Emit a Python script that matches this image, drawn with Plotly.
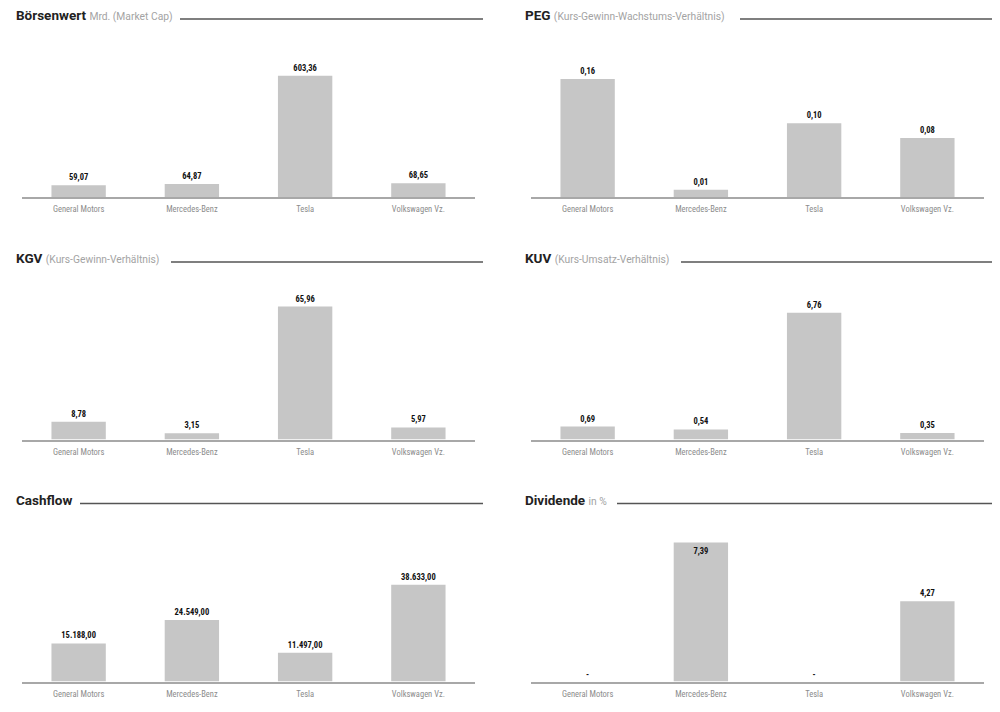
import plotly.graph_objects as go
from plotly.subplots import make_subplots

firmen = ["General Motors", "Mercedes-Benz", "Tesla", "Volkswagen Vz."]

boersenwert = [59.07, 64.87, 603.36, 68.65]
peg = [0.16, 0.01, 0.10, 0.08]
kgv = [8.78, 3.15, 65.96, 5.97]
kuv = [0.69, 0.54, 6.76, 0.35]
cashflow = [15188.00, 24549.00, 11497.00, 38633.00]
dividende = [None, 7.39, None, 4.27]

titel = ["Börsenwert", "PEG", "KGV", "KUV", "Cashflow", "Dividende"]
untertitel = ["Mrd. (Market Cap)", "(Kurs-Gewinn-Wachstums-Verhältnis)",
              "(Kurs-Gewinn-Verhältnis)", "(Kurs-Umsatz-Verhältnis)", "", "in %"]

# page has an 8px body margin, so the figure is 8px smaller and shifted
OFF = 8
W, H = 1000 - OFF, 712 - OFF
BAR = "#c6c6c6"
COND = "Liberation Sans Narrow, Roboto Condensed, DejaVu Sans Condensed, sans-serif"


def fmt_de(v):
    if v is None:
        return "-"
    s = f"{v:,.2f}"
    return s.replace(",", "X").replace(".", ",").replace("X", ".")


def px(x):
    return (x - OFF) / W


def py(y):
    return 1 - (y - OFF) / H


serien = [boersenwert, peg, kgv, kuv, cashflow, dividende]
y_max = [781, 0.213, 77.9, 8.38, 62700, 8.35]

# geometry in screen pixels
x_dom = [(22, 475), (531, 984)]
baselines = [197, 439.5, 681.5]
plot_h = 157
title_y = [15, 257.5, 500]
line_y = [19, 262, 503.5]
line_start = [180, 740, 171, 681, 80, 617]
line_end = [483, 992]

fig = make_subplots(rows=3, cols=2, horizontal_spacing=0.05, vertical_spacing=0.1)

for i, werte in enumerate(serien):
    r, c = i // 2 + 1, i % 2 + 1
    y = [0 if v is None else v for v in werte]
    pos = []
    for v in werte:
        if v is not None and v / y_max[i] > 0.85:
            pos.append("inside")
        else:
            pos.append("outside")
    fig.add_trace(go.Bar(
        x=firmen, y=y, width=0.48,
        marker=dict(color=BAR, line=dict(width=0)),
        text=[fmt_de(v) for v in werte],
        textposition=pos, insidetextanchor="end",
        textfont=dict(family=COND, size=8.5, color="#111", weight="bold"),
        cliponaxis=False, showlegend=False, hoverinfo="skip",
    ), row=r, col=c)

fig.update_xaxes(showgrid=False, zeroline=False, showline=True, linecolor="#a8a8a8",
                 linewidth=2, ticks="", ticklabelstandoff=3,
                 tickfont=dict(family=COND, size=8.5, color="#8c8c8c"),
                 range=[-0.5, 3.5], fixedrange=True)
fig.update_yaxes(showgrid=False, zeroline=False, showticklabels=False, fixedrange=True)

annotations = []
shapes = []
for i in range(6):
    r, c = i // 2, i % 2
    n = i + 1
    xa = "xaxis" if n == 1 else f"xaxis{n}"
    ya = "yaxis" if n == 1 else f"yaxis{n}"
    fig.layout[xa].domain = [px(x_dom[c][0]), px(x_dom[c][1])]
    fig.layout[ya].domain = [py(baselines[r]), py(baselines[r] - plot_h)]
    fig.layout[ya].range = [0, y_max[i]]

    text = f"<b>{titel[i]}</b>"
    if untertitel[i]:
        text += f" <span style='font-size:10.3px;color:#a3a3a3'>{untertitel[i]}</span>"
    annotations.append(dict(
        text=text, xref="paper", yref="paper", x=px(14 + c * 509), y=py(title_y[r]),
        xanchor="left", yanchor="middle", showarrow=False,
        font=dict(family="Roboto, Inter, sans-serif", size=13.5, color="#222"),
    ))
    shapes.append(dict(
        type="line", xref="paper", yref="paper",
        x0=px(line_start[i]), x1=px(line_end[c]), y0=py(line_y[r]), y1=py(line_y[r]),
        line=dict(color="#555", width=1.5),
    ))

fig.update_layout(
    width=W, height=H,
    margin=dict(l=0, r=0, t=0, b=0),
    paper_bgcolor="white", plot_bgcolor="white",
    annotations=annotations, shapes=shapes,
)

fig.write_html("out.html")
